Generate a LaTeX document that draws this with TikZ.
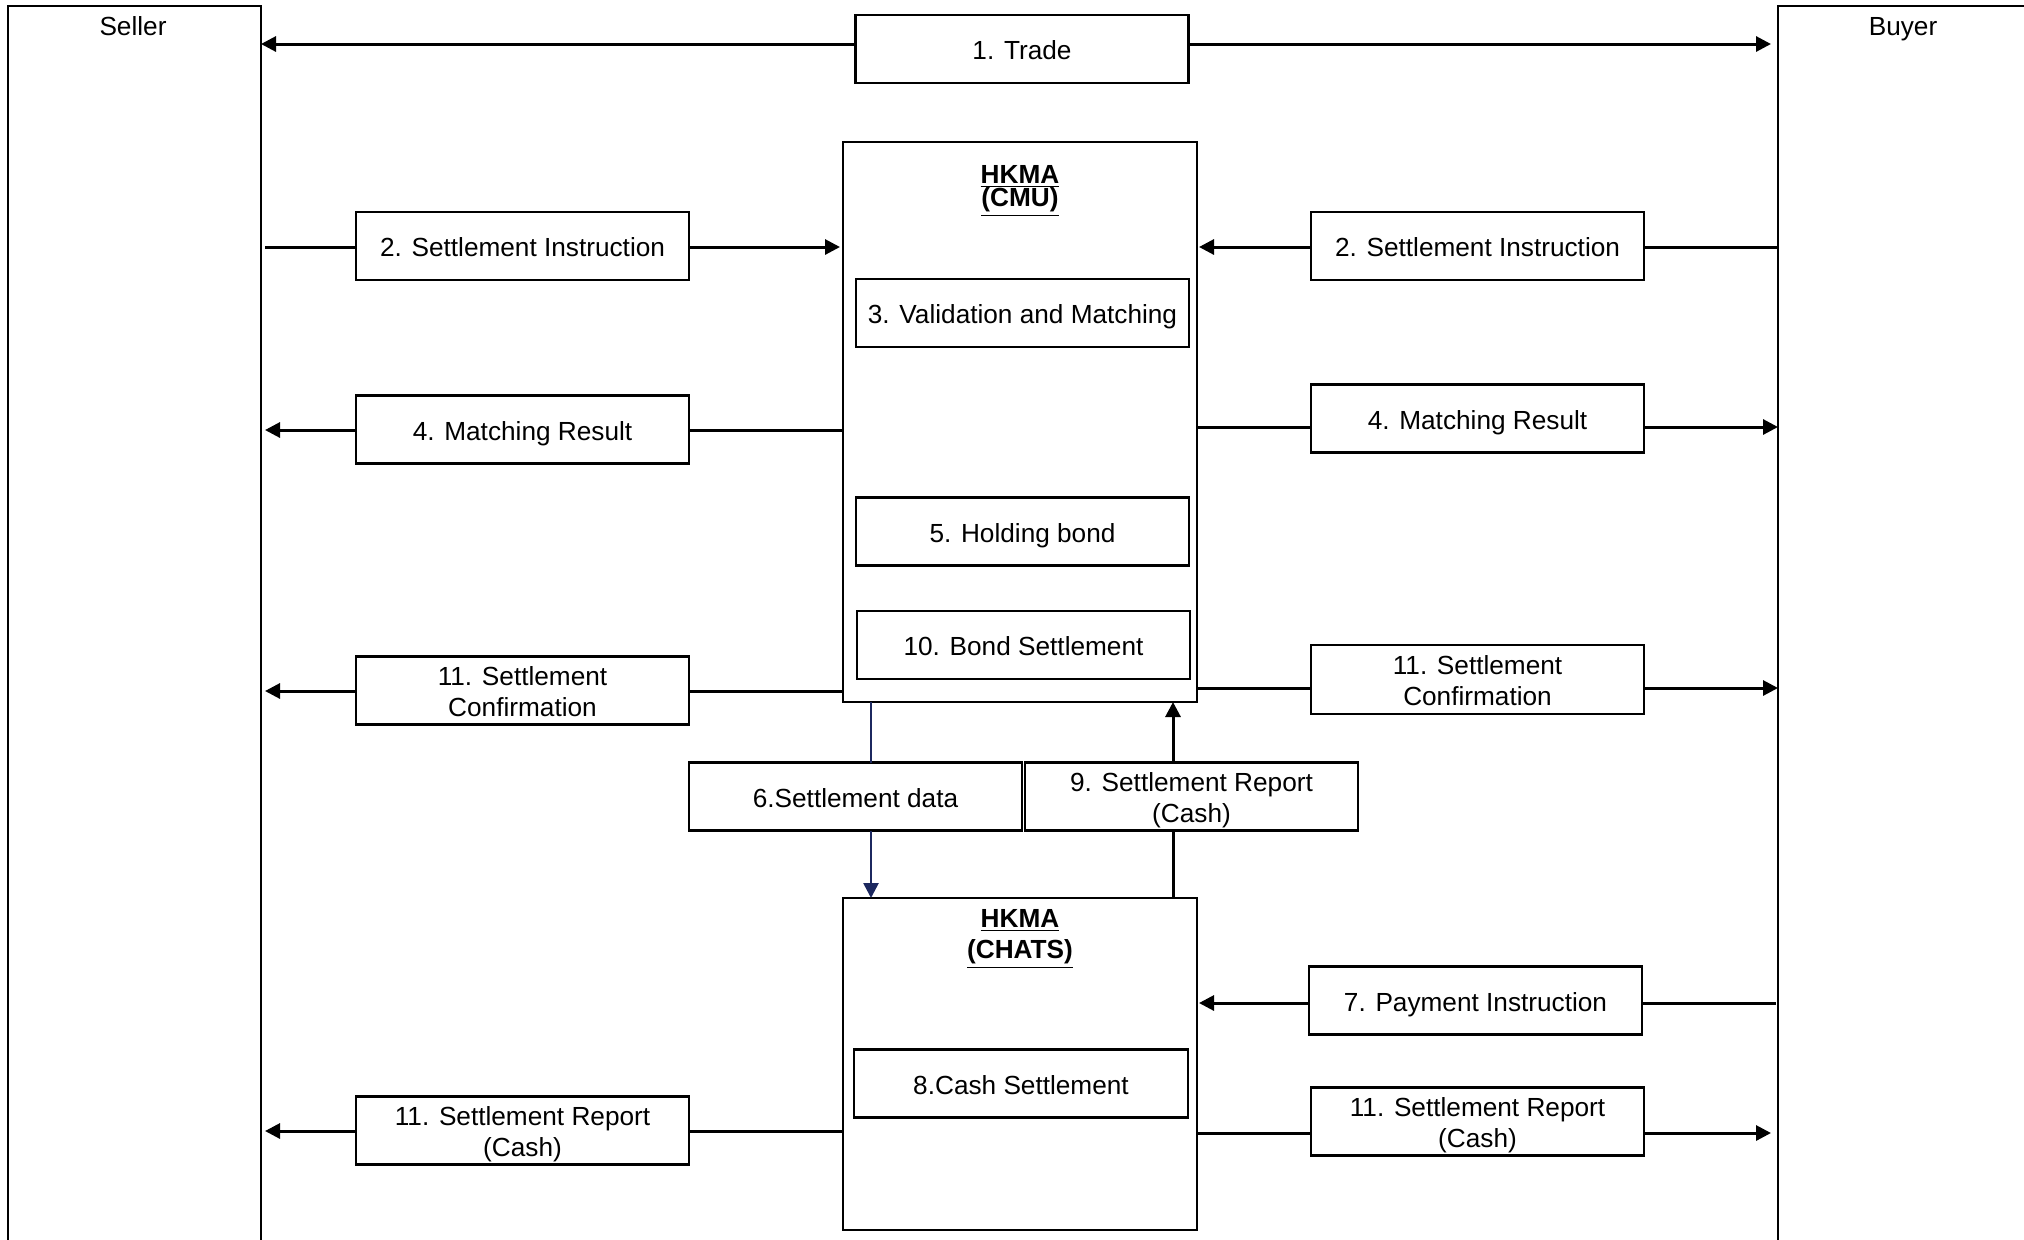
\documentclass[tikz,border=0pt]{standalone}
\usepackage{fontspec}
\setmainfont{Liberation Sans}
\usetikzlibrary{arrows.meta}
\definecolor{navy}{RGB}{28,40,95}
\begin{document}
\begin{tikzpicture}[x=0.5pt,y=-0.5pt,
  every node/.style={font=\fontsize{13.1}{15.5}\selectfont},
  txt/.style={text height=10.8pt, text depth=0pt},
  boxbase/.style={draw, line width=1.2pt, inner sep=0pt, outer sep=0pt, align=center,
              minimum width=166.5pt, minimum height=34pt},
  box/.style={boxbase, txt},
  box2/.style={boxbase, text height=26.3pt, text depth=0pt},
  lane/.style={inner sep=0pt, outer sep=0pt, minimum width=126.5pt,
               minimum height=620pt, anchor=north west},
  laneline/.style={line width=1.4pt},
  conn/.style={line width=1.5pt},
  arr/.style={conn, -{Triangle[length=7.5pt,width=7.5pt]}},
  title/.style={font=\bfseries\fontsize{13.1}{11.5}\selectfont, align=center, inner sep=0pt},
  titlewide/.style={title, font=\bfseries\fontsize{13.1}{15.5}\selectfont},
]
\useasboundingbox (0,0) rectangle (2024,1239);

% parties
\node[lane] (seller) at (8,6) {};
\node[lane] (buyer) at (1778,6) {};
\draw[laneline] (seller.south west) -- (seller.north west) -- (seller.north east) -- (seller.south east);
\draw[laneline] (buyer.south west) -- (buyer.north west) -- (buyer.north east) -- (buyer.south east);
\node[txt] (sellerlbl) at (133,25) {Seller};
\node[txt] (buyerlbl) at (1903,25) {Buyer};

% trade
\node[box] (trade) at (1022,49) {1. Trade};

% CMU
\node[boxbase, minimum width=177pt, minimum height=280pt] (cmu) at (1020,422) {};
\node[title] (cmutitle) at (1020,191) {\underline{HKMA}\\\underline{(CMU)}};
\node[box] (valid) at (1022.5,313) {3. Validation and Matching};
\node[box] (hold) at (1022.5,531.5) {5. Holding bond};
\node[box] (bond) at (1023.5,645) {10. Bond Settlement};

% CHATS
\node[boxbase, minimum width=177pt, minimum height=166pt] (chats) at (1020,1064) {};
\node[titlewide] (chatstitle) at (1020,939) {\underline{HKMA}\\\underline{(CHATS)}};
\node[box, minimum width=167pt] (cash) at (1021,1083.5) {8.Cash Settlement};

% seller side messages
\node[box] (sil) at (522.5,246) {2. Settlement Instruction};
\node[box] (mrl) at (522.5,429.5) {4. Matching Result};
\node[box2] (scl) at (522.5,690.5) {11. Settlement\\Confirmation};
\node[box2] (srl) at (522.5,1130.5) {11. Settlement Report\\(Cash)};

% buyer side messages
\node[box] (sir) at (1477.5,246) {2. Settlement Instruction};
\node[box] (mrr) at (1477.5,418.5) {4. Matching Result};
\node[box2, minimum height=34.5pt] (scr) at (1477.5,679.5) {11. Settlement\\Confirmation};
\node[box] (pi) at (1475.5,1000.5) {7. Payment Instruction};
\node[box2] (srr) at (1477.5,1121.5) {11. Settlement Report\\(Cash)};

% between CMU and CHATS
\node[box] (sd) at (855.5,796.5) {6.Settlement data};
\node[box2] (rep) at (1191.5,796.5) {9. Settlement Report\\(Cash)};

% row levels
\coordinate (ytr) at (0,44);
\coordinate (ysi) at (0,247);
\coordinate (ymrl) at (0,430);
\coordinate (ymrr) at (0,427);
\coordinate (yscl) at (0,691);
\coordinate (yscr) at (0,688);
\coordinate (ypi) at (0,1003);
\coordinate (ysrl) at (0,1131);
\coordinate (ysrr) at (0,1133);
\coordinate (xb) at (871,0);
\coordinate (xk) at (1173,0);

% trade
\draw[arr] (trade.west |- ytr) -- (seller.east |- ytr);
\draw[arr, shorten >=3.5pt] (trade.east |- ytr) -- (buyer.west |- ytr);

% seller side
\draw[conn, shorten <=2pt] (seller.east |- ysi) -- (sil.west |- ysi);
\draw[arr, shorten >=1.5pt] (sil.east |- ysi) -- (cmu.west |- ysi);
\draw[conn] (cmu.west |- ymrl) -- (mrl.east |- ymrl);
\draw[arr, shorten >=2pt] (mrl.west |- ymrl) -- (seller.east |- ymrl);
\draw[conn] (cmu.west |- yscl) -- (scl.east |- yscl);
\draw[arr, shorten >=2pt] (scl.west |- yscl) -- (seller.east |- yscl);
\draw[conn] (chats.west |- ysrl) -- (srl.east |- ysrl);
\draw[arr, shorten >=2pt] (srl.west |- ysrl) -- (seller.east |- ysrl);

% buyer side
\draw[conn] (buyer.west |- ysi) -- (sir.east |- ysi);
\draw[arr, shorten >=1pt] (sir.west |- ysi) -- (cmu.east |- ysi);
\draw[conn] (cmu.east |- ymrr) -- (mrr.west |- ymrr);
\draw[arr] (mrr.east |- ymrr) -- (buyer.west |- ymrr);
\draw[conn] (cmu.east |- yscr) -- (scr.west |- yscr);
\draw[arr] (scr.east |- yscr) -- (buyer.west |- yscr);
\draw[conn, shorten <=1pt] (buyer.west |- ypi) -- (pi.east |- ypi);
\draw[arr, shorten >=1pt] (pi.west |- ypi) -- (chats.east |- ypi);
\draw[conn] (chats.east |- ysrr) -- (srr.west |- ysrr);
\draw[arr, shorten >=3.5pt] (srr.east |- ysrr) -- (buyer.west |- ysrr);

% CMU <-> CHATS
\draw[conn, navy, line width=1.3pt] (cmu.south -| xb) -- (sd.north -| xb);
\draw[arr, navy, line width=1.3pt] (sd.south -| xb) -- (chats.north -| xb);
\draw[conn] (chats.north -| xk) -- (rep.south -| xk);
\draw[arr] (rep.north -| xk) -- (cmu.south -| xk);
\end{tikzpicture}
\end{document}
